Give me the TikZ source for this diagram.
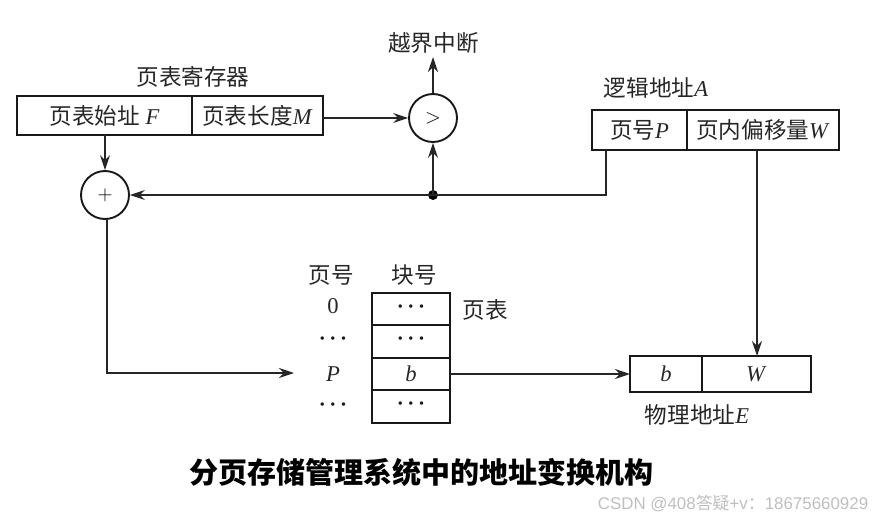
\documentclass[tikz,border=0pt]{standalone}
\usepackage{fontspec}
\setmainfont{Liberation Serif}
\setsansfont{Liberation Sans}
\newfontfamily\cjk{Noto Sans CJK SC}
\usetikzlibrary{arrows.meta}
\newcommand{\Zh}[1]{{\cjk #1}}
\newcommand{\Dts}{\raisebox{-4pt}[0pt][0pt]{\textperiodcentered\hspace{3.6pt}\textperiodcentered\hspace{3.6pt}\textperiodcentered}}
\tikzset{
  x=1pt,y=-1pt,
  cell/.style={draw=black!90,line width=2pt,inner sep=0pt,outer sep=0pt,minimum width=#1},
  cellh/.style={minimum height=#1},
  op/.style={draw=black!90,circle,line width=1.9pt,inner sep=0pt,minimum size=48pt,font=\fontsize{20}{20}\selectfont},
  lab/.style={inner sep=0pt,text=black!85,font=\fontsize{22.6}{24}\selectfont},
  conn/.style={draw=black!85,line width=1.5pt,-{Stealth[length=15pt,width=10pt,inset=5pt]}},
  dots/.style={inner sep=0pt,text=black!90,font=\fontsize{21}{21}\bfseries\selectfont}
}
\begin{document}
\begin{tikzpicture}
\useasboundingbox (0,0) rectangle (872,519);
% register
\node[cell=175pt,cellh=39pt,lab] (rf) at (104.5,115.5) {\Zh{页表始址} \textit{F}};
\node[cell=131pt,cellh=39pt,lab] (rm) at (257.5,115.5) {\Zh{页表长度}\textit{M}};
\node[lab] (rt) at (193,77) {\Zh{页表寄存器}};
% comparators
\node[op] (cmp) at (433,118) {$>$};
\node[op] (add) at (105,195) {$+$};
\node[lab] (ov) at (433.5,43) {\Zh{越界中断}};
% logical address
\node[cell=95pt,cellh=40pt,lab] (lp) at (639.5,130) {\Zh{页号}\textit{P}};
\node[cell=152pt,cellh=40pt,lab] (lw) at (763,130) {\Zh{页内偏移量}\textit{W}};
\node[lab] (lt) at (656,88) {\Zh{逻辑地址}\textit{A}};
% page table
\node[lab] (hp) at (331,275) {\Zh{页号}};
\node[lab] (hb) at (414,275) {\Zh{块号}};
\node[cell=78pt,cellh=32pt,dots] (t0) at (411,309) {\Dts};
\node[cell=78pt,cellh=33pt,dots] (t1) at (411,341.5) {\Dts};
\node[cell=78pt,cellh=32pt,lab] (t2) at (411,374) {\textit{b}};
\node[cell=78pt,cellh=33pt,dots] (t3) at (411,406.5) {\Dts};
\node[lab] (r0) at (333,306) {0};
\node[dots] (r1) at (333,341) {\Dts};
\node[lab] (rp) at (333,374) {\textit{P}};
\node[dots] (r3) at (333,407.5) {\Dts};
\node[lab] (tl) at (485,310) {\Zh{页表}};
% physical address
\node[cell=72pt,cellh=36pt,lab] (pb) at (666,374) {\textit{b}};
\node[cell=109pt,cellh=36pt,lab] (pw) at (756.5,374) {\textit{W}};
\node[lab] (pt) at (697,415) {\Zh{物理地址}\textit{E}};
% title and watermark
\node[inner sep=0pt,font=\fontsize{29}{30}\selectfont] (title) at (421,472) {{\cjk\bfseries 分页存储管理系统中的地址变换机构}};
\node[inner sep=0pt,text=black!25,font=\fontsize{16.9}{18}\sffamily\selectfont] (wm) at (733,504) {CSDN @408\Zh{答疑}+v\Zh{：}18675660929};
% connectors
\coordinate (j) at (433,195);
\fill[black] (j) circle (5pt);
\draw[conn] (rf.south -| add) -- (add.north);
\draw[conn] (rm.east |- cmp.west) -- (cmp.west);
\draw[conn] (cmp.north) -- (433,57);
\draw[conn] (j) -- (cmp.south);
\coordinate (lpout) at (606,150);
\coordinate (lpbend) at (606,195);
\draw[conn] (lpout) -- (lpbend) -- (add.east);
\coordinate (elbow) at (107,373);
\coordinate (pin) at (294,373);
\draw[conn] (107,219) -- (elbow) -- (pin);
\draw[conn] (t2.east) -- (pb.west);
\coordinate (lwout) at (757,150);
\coordinate (pwin) at (757,356);
\draw[conn] (lwout) -- (pwin);
\end{tikzpicture}
\end{document}
